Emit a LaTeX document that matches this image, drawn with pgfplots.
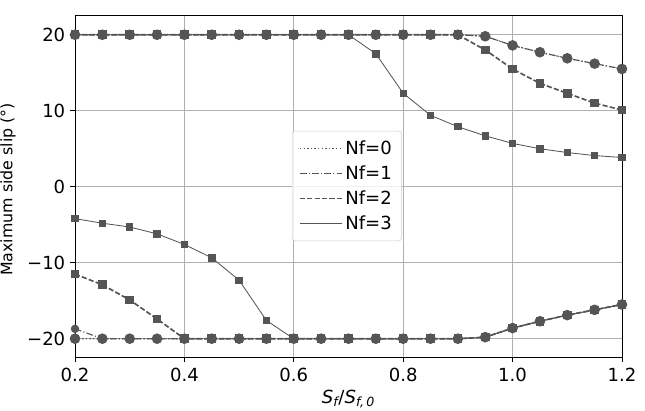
\documentclass[border=0pt]{standalone}
\usepackage{pgfplots}
\pgfplotsset{compat=1.18}
\usepackage{fontspec}
\setmainfont{DejaVu Sans}
\definecolor{mygray}{RGB}{85,85,85}
\definecolor{gridgray}{RGB}{176,176,176}
\definecolor{leggray}{RGB}{204,204,204}
\begin{document}
\begin{tikzpicture}
\begin{axis}[
  scale only axis,
  width=393.8pt, height=246.2pt,
  xmin=0.2, xmax=1.2, ymin=-22.4, ymax=22.6,
  xtick={0.2,0.4,0.6,0.8,1.0,1.2},
  xticklabels={0.2,0.4,0.6,0.8,1.0,1.2},
  ytick={-20,-10,0,10,20},
  yticklabels={−20,−10,0,10,20},
  tick align=outside,
  major tick length=3.5pt,
  tick style={black, line width=0.6pt},
  tick pos=left,
  grid=major,
  grid style={gridgray, line width=0.6pt},
  axis line style={black, line width=0.6pt},
  ticklabel style={font=\fontsize{13}{15}\selectfont},
  xticklabel style={yshift=-1pt},
  /pgf/number format/assume math mode=true,
  xlabel={\textit{S\textsubscript{f}}/\textit{S\textsubscript{f,\,0}}},
  ylabel={Maximum side slip (°)},
  every axis x label/.style={at={(axis description cs:0.5,-0.135)}, anchor=base, font=\fontsize{13}{15}\selectfont},
  every axis y label/.style={at={(axis description cs:-0.1225,0.49)}, anchor=center, rotate=90, font=\fontsize{11.4}{14}\selectfont},
  legend style={at={(0.497,0.5)}, anchor=center, draw=leggray, fill=white, fill opacity=0.8, text opacity=1, rounded corners=2pt, font=\fontsize{13}{15}\selectfont, row sep=2.5pt, inner xsep=5pt, inner ysep=5pt},
  legend cell align=left,
  legend image code/.code={\draw[#1] (0pt,0pt) -- (30pt,0pt);},
]
\addlegendimage{mygray, line width=0.8pt, dash pattern=on 1pt off 1.6pt}
\addlegendentry{Nf=0}
\addlegendimage{mygray, line width=0.8pt, dash pattern=on 4.8pt off 1.6pt on 0.8pt off 1.6pt}
\addlegendentry{Nf=1}
\addlegendimage{mygray, line width=1.2pt, dash pattern=on 3.7pt off 1.6pt}
\addlegendentry{Nf=2}
\addlegendimage{mygray, line width=0.6pt}
\addlegendentry{Nf=3}

% Nf=0
\addplot[forget plot, mygray, line width=0.8pt, dash pattern=on 1pt off 1.6pt, mark=*, mark size=3.4pt, mark options={solid, fill=mygray, draw=mygray}] coordinates {
(0.2,20)(0.25,20)(0.3,20)(0.35,20)(0.4,20)(0.45,20)(0.5,20)(0.55,20)(0.6,20)(0.65,20)(0.7,20)(0.75,20)(0.8,20)(0.85,20)(0.9,20)(0.95,19.8)(1.0,18.6)(1.05,17.7)(1.1,16.9)(1.15,16.2)(1.2,15.5)};
\addplot[forget plot, mygray, line width=0.8pt, dash pattern=on 1pt off 1.6pt, mark=*, mark size=3.4pt, mark options={solid, fill=mygray, draw=mygray}] coordinates {
(0.2,-20)(0.25,-20)(0.3,-20)(0.35,-20)(0.4,-20)(0.45,-20)(0.5,-20)(0.55,-20)(0.6,-20)(0.65,-20)(0.7,-20)(0.75,-20)(0.8,-20)(0.85,-20)(0.9,-20)(0.95,-19.8)(1.0,-18.6)(1.05,-17.7)(1.1,-16.9)(1.15,-16.2)(1.2,-15.5)};
% Nf=1
\addplot[forget plot, mygray, line width=0.8pt, dash pattern=on 4.8pt off 1.6pt on 0.8pt off 1.6pt, mark=*, mark size=2.6pt, mark options={solid, fill=mygray, draw=mygray}] coordinates {
(0.2,20)(0.25,20)(0.3,20)(0.35,20)(0.4,20)(0.45,20)(0.5,20)(0.55,20)(0.6,20)(0.65,20)(0.7,20)(0.75,20)(0.8,20)(0.85,20)(0.9,20)(0.95,19.8)(1.0,18.6)(1.05,17.7)(1.1,16.9)(1.15,16.2)(1.2,15.5)};
\addplot[forget plot, mygray, line width=0.8pt, dash pattern=on 4.8pt off 1.6pt on 0.8pt off 1.6pt, mark=*, mark size=2.6pt, mark options={solid, fill=mygray, draw=mygray}] coordinates {
(0.2,-18.7)(0.25,-20)(0.3,-20)(0.35,-20)(0.4,-20)(0.45,-20)(0.5,-20)(0.55,-20)(0.6,-20)(0.65,-20)(0.7,-20)(0.75,-20)(0.8,-20)(0.85,-20)(0.9,-20)(0.95,-19.8)(1.0,-18.6)(1.05,-17.7)(1.1,-16.9)(1.15,-16.2)(1.2,-15.5)};
% Nf=2
\addplot[forget plot, mygray, line width=1.2pt, dash pattern=on 3.7pt off 1.6pt, mark=square*, mark size=2.5pt, mark options={solid, fill=mygray, draw=mygray}] coordinates {
(0.2,20)(0.25,20)(0.3,20)(0.35,20)(0.4,20)(0.45,20)(0.5,20)(0.55,20)(0.6,20)(0.65,20)(0.7,20)(0.75,20)(0.8,20)(0.85,20)(0.9,20)(0.95,18.0)(1.0,15.5)(1.05,13.6)(1.1,12.3)(1.15,11.0)(1.2,10.1)};
\addplot[forget plot, mygray, line width=1.2pt, dash pattern=on 3.7pt off 1.6pt, mark=square*, mark size=2.5pt, mark options={solid, fill=mygray, draw=mygray}] coordinates {
(0.2,-11.5)(0.25,-12.9)(0.3,-14.9)(0.35,-17.4)(0.4,-20)(0.45,-20)(0.5,-20)(0.55,-20)(0.6,-20)(0.65,-20)(0.7,-20)(0.75,-20)(0.8,-20)(0.85,-20)(0.9,-20)(0.95,-19.8)(1.0,-18.6)(1.05,-17.7)(1.1,-16.9)(1.15,-16.2)(1.2,-15.5)};
% Nf=3
\addplot[forget plot, mygray, line width=0.6pt, mark=square*, mark size=2.3pt, mark options={solid, fill=mygray, draw=mygray}] coordinates {
(0.2,20)(0.25,20)(0.3,20)(0.35,20)(0.4,20)(0.45,20)(0.5,20)(0.55,20)(0.6,20)(0.65,20)(0.7,20)(0.75,17.5)(0.8,12.3)(0.85,9.4)(0.9,7.9)(0.95,6.7)(1.0,5.7)(1.05,5.0)(1.1,4.5)(1.15,4.1)(1.2,3.85)};
\addplot[forget plot, mygray, line width=0.6pt, mark=square*, mark size=2.3pt, mark options={solid, fill=mygray, draw=mygray}] coordinates {
(0.2,-4.2)(0.25,-4.8)(0.3,-5.3)(0.35,-6.2)(0.4,-7.6)(0.45,-9.35)(0.5,-12.3)(0.55,-17.6)(0.6,-20)(0.65,-20)(0.7,-20)(0.75,-20)(0.8,-20)(0.85,-20)(0.9,-20)(0.95,-19.8)(1.0,-18.6)(1.05,-17.7)(1.1,-16.9)(1.15,-16.2)(1.2,-15.5)};
\end{axis}
\pgfresetboundingbox
\path (current axis.south west) ++(-54pt,-38.9pt) coordinate (bbsw);
\path (current axis.north east) ++(16.6pt,10.8pt) coordinate (bbne);
\useasboundingbox (bbsw) rectangle (bbne);
\end{tikzpicture}
\end{document}
